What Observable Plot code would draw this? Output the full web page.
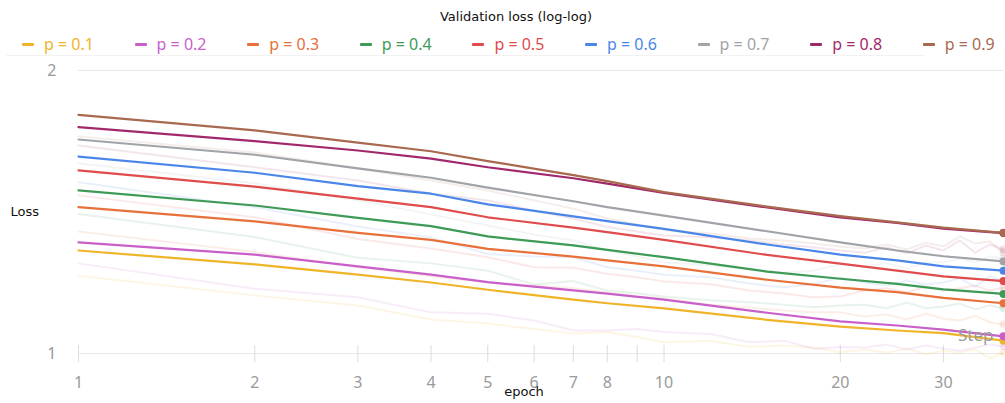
<!DOCTYPE html>
<html><head><meta charset="utf-8">
<script src="https://cdn.jsdelivr.net/npm/d3@7"></script>
<script src="https://cdn.jsdelivr.net/npm/@observablehq/plot@0.6"></script>
<style>
body{margin:0;background:#fff;width:1005px;height:403px;overflow:hidden;position:relative;font-family:"Noto Sans",sans-serif}
#title{position:absolute;top:9px;left:0;width:1032px;text-align:center;font:500 13px "DejaVu Sans",sans-serif;color:#111;line-height:16px}
#legend{position:absolute;top:33px;left:6px;width:919px;height:22px;border-bottom:1px solid #f2f2f2}
.item{position:absolute;top:0;height:22px;line-height:22px;font-size:16px;white-space:nowrap}
.sw{position:absolute;left:0;top:10px;width:12px;height:3px;border-radius:1px}
.lb{position:absolute;left:22px;top:0}
#chart{position:absolute;top:60px;left:0}
</style></head>
<body>
<div id="title">Validation loss (log-log)</div>
<div id="legend"></div>
<div id="chart"></div>
<script>
const seriesNames = ["p = 0.1","p = 0.2","p = 0.3","p = 0.4","p = 0.5","p = 0.6","p = 0.7","p = 0.8","p = 0.9"];
const seriesColors = ["#f0b429","#c95fc9","#e8703a","#3d9a57","#e04b4b","#4a86e8","#a0a4a8","#a2286c","#a8694f"];
const xTicks = [1,2,3,4,5,6,7,8,9,10,20,30];
const yTicks = [1,2];

// smoothed (bold) curves
const smoothEpochs = [1,2,3,4,5,7,8,10,15,20,25,30,38];
const smooth_p01 = [1.287,1.244,1.213,1.190,1.169,1.141,1.131,1.117,1.086,1.068,1.058,1.051,1.032];
const smooth_p02 = [1.313,1.274,1.238,1.213,1.191,1.167,1.158,1.141,1.105,1.082,1.071,1.060,1.043];
const smooth_p03 = [1.431,1.382,1.344,1.321,1.292,1.268,1.256,1.238,1.198,1.175,1.162,1.146,1.131];
const smooth_p04 = [1.491,1.437,1.394,1.366,1.332,1.303,1.289,1.266,1.222,1.201,1.186,1.170,1.157];
const smooth_p05 = [1.566,1.505,1.461,1.431,1.396,1.361,1.346,1.321,1.273,1.246,1.225,1.208,1.194];
const smooth_p06 = [1.620,1.557,1.507,1.479,1.441,1.399,1.383,1.357,1.306,1.274,1.256,1.238,1.225];
const smooth_p07 = [1.689,1.627,1.574,1.538,1.501,1.452,1.431,1.402,1.349,1.313,1.287,1.269,1.253];
const smooth_p08 = [1.741,1.682,1.644,1.612,1.578,1.536,1.516,1.482,1.430,1.396,1.377,1.358,1.343];
const smooth_p09 = [1.794,1.727,1.676,1.641,1.602,1.548,1.525,1.485,1.433,1.400,1.379,1.361,1.344];

// raw (faint) curves
const rawEpochs = [1,2,3,4,5,6,7,8,9,10,12,14,16,18,20,22,24,26,28,30,32,34,36,38];
const raw_p01 = [1.210,1.153,1.125,1.087,1.076,1.062,1.050,1.054,1.041,1.028,1.032,1.016,1.020,1.015,1.003,1.010,1.002,1.012,0.998,1.007,1.002,1.010,0.988,1.002];
const raw_p02 = [1.247,1.172,1.148,1.106,1.102,1.084,1.058,1.058,1.062,1.054,1.049,1.028,1.032,1.012,1.016,1.015,1.022,1.010,1.020,1.012,1.007,1.015,1.022,1.018];
const raw_p03 = [1.348,1.282,1.235,1.208,1.190,1.181,1.173,1.161,1.150,1.144,1.127,1.119,1.111,1.106,1.106,1.095,1.100,1.087,1.103,1.089,1.084,1.097,1.079,1.074];
const raw_p04 = [1.407,1.330,1.264,1.247,1.225,1.184,1.194,1.167,1.158,1.150,1.139,1.134,1.127,1.120,1.125,1.127,1.117,1.133,1.117,1.122,1.130,1.114,1.125,1.117];
const raw_p05 = [1.473,1.396,1.324,1.293,1.266,1.235,1.234,1.216,1.205,1.193,1.185,1.167,1.158,1.148,1.150,1.167,1.173,1.161,1.178,1.167,1.173,1.181,1.167,1.175];
const raw_p06 = [1.521,1.431,1.365,1.329,1.276,1.268,1.266,1.235,1.225,1.213,1.205,1.187,1.176,1.185,1.205,1.190,1.181,1.196,1.184,1.190,1.202,1.178,1.208,1.193];
const raw_p07 = [1.594,1.517,1.455,1.406,1.368,1.338,1.319,1.287,1.268,1.250,1.241,1.231,1.219,1.225,1.244,1.238,1.247,1.231,1.250,1.250,1.262,1.250,1.268,1.262];
const raw_p08 = [1.664,1.578,1.528,1.480,1.455,1.419,1.392,1.363,1.348,1.335,1.329,1.319,1.306,1.297,1.287,1.280,1.297,1.278,1.303,1.287,1.319,1.280,1.306,1.290];
const raw_p09 = [1.702,1.636,1.573,1.528,1.491,1.455,1.426,1.392,1.372,1.352,1.342,1.325,1.319,1.309,1.300,1.293,1.306,1.290,1.312,1.300,1.332,1.309,1.316,1.280];

const smoothAll = [smooth_p01,smooth_p02,smooth_p03,smooth_p04,smooth_p05,smooth_p06,smooth_p07,smooth_p08,smooth_p09];
const rawAll = [raw_p01,raw_p02,raw_p03,raw_p04,raw_p05,raw_p06,raw_p07,raw_p08,raw_p09];

const smoothRows = [], rawRows = [];
seriesNames.forEach((s, i) => {
  smoothEpochs.forEach((e, j) => smoothRows.push({series: s, color: seriesColors[i], epoch: e, loss: smoothAll[i][j]}));
  rawEpochs.forEach((e, j) => rawRows.push({series: s, color: seriesColors[i], epoch: e, loss: rawAll[i][j]}));
});

// legend
const legend = document.getElementById("legend");
seriesNames.forEach((s, i) => {
  const it = document.createElement("div");
  it.className = "item";
  it.style.left = (16 + i * 112.6) + "px";
  it.innerHTML = `<span class="sw" style="background:${seriesColors[i]}"></span><span class="lb" style="color:${seriesColors[i]}">${s}</span>`;
  legend.appendChild(it);
});

const chart = Plot.plot({
  width: 1005,
  height: 343,
  marginTop: 10,
  marginBottom: 50,
  marginLeft: 78,
  marginRight: 2,
  style: {fontFamily: "Noto Sans, sans-serif", background: "#fff", overflow: "visible"},
  x: {type: "log", domain: [1, 38]},
  y: {type: "log", domain: [1, 2]},
  color: {type: "identity"},
  marks: [
    Plot.gridY(yTicks, {stroke: "#e8e8e8", strokeOpacity: 1}),
    Plot.gridX(xTicks, {stroke: "#dcdcdc", strokeOpacity: 1, insetTop: 275}),
    Plot.axisX({ticks: xTicks, tickFormat: d => String(d), tickSize: 9, tickPadding: 14, stroke: "#dcdcdc", fill: "#9a9a9a", fontSize: 16, label: null}),
    Plot.axisY({ticks: yTicks, tickFormat: d => String(d), tickSize: 0, tickPadding: 22, fill: "#9a9a9a", fontSize: 16, label: null}),
    Plot.line(rawRows, {x: "epoch", y: "loss", z: "series", stroke: "color", strokeOpacity: 0.12, strokeWidth: 2}),
    Plot.dot(rawRows, Plot.selectLast({x: "epoch", y: "loss", z: "series", fill: "color", fillOpacity: 0.15, r: 4})),
    Plot.line(smoothRows, {x: "epoch", y: "loss", z: "series", stroke: "color", strokeWidth: 2.2}),
    Plot.dot(smoothRows, Plot.selectLast({x: "epoch", y: "loss", z: "series", fill: "color", r: 4})),
    Plot.text(["Loss"], {frameAnchor: "left", dx: -68, textAnchor: "start", fontSize: 13, fill: "#111", fontFamily: "DejaVu Sans"}),
    Plot.text(["epoch"], {frameAnchor: "bottom", dy: 42, dx: -17, fontSize: 13, fill: "#111", fontFamily: "DejaVu Sans"}),
    Plot.text(["Step"], {frameAnchor: "bottom-right", dx: -10, dy: -13, textAnchor: "end", fontSize: 17, fill: "#9a9a9a"})
  ]
});
document.getElementById("chart").appendChild(chart);
</script>
</body></html>
